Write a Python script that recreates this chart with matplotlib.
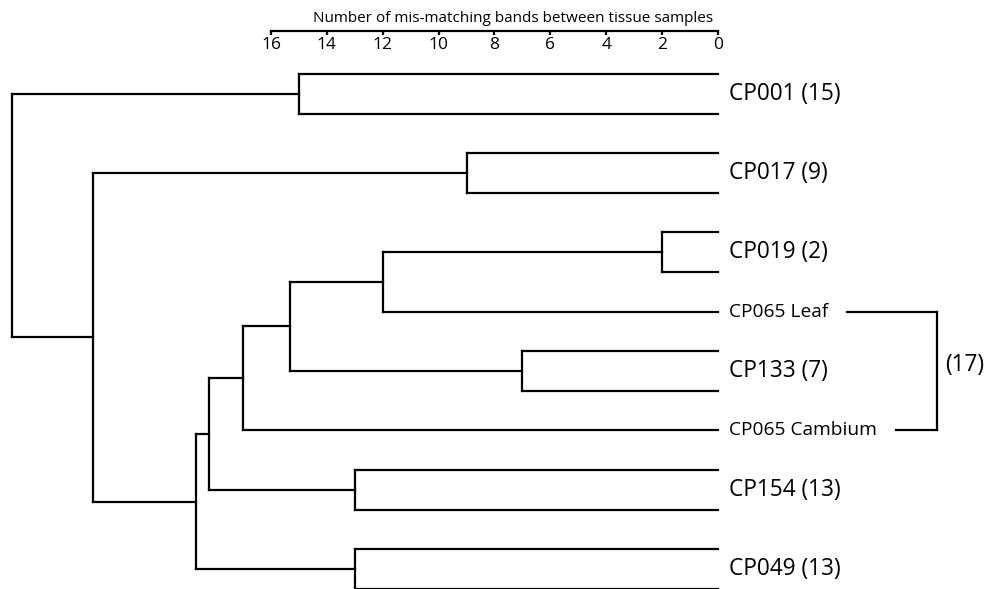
import matplotlib
matplotlib.use("Agg")
import matplotlib.pyplot as plt
from matplotlib.transforms import offset_copy

plt.rcParams['font.family'] = ['Open Sans', 'DejaVu Sans']

# ---- data ----
# leaves, top to bottom (pairs = two tissue samples of one tree)
leaf_names = ["CP001", "CP001", "CP017", "CP017", "CP019", "CP019",
              "CP065 Leaf", "CP133", "CP133", "CP065 Cambium",
              "CP154", "CP154", "CP049", "CP049"]
# merges (child_a, child_b, height); new node ids start at len(leaf_names)
merge_a = [0, 2, 4, 7, 10, 12, 16, 20, 21, 22, 23, 15, 14]
merge_b = [1, 3, 5, 8, 11, 13, 6, 17, 9, 18, 19, 24, 25]
merge_h = [15, 9, 2, 7, 13, 13, 12, 15.33, 17, 18.22, 18.68, 22.37, 25.27]
# samples shown with a single label (pairs) and single-tissue labels
pair_labels = ["CP001", "CP017", "CP019", "CP133", "CP154", "CP049"]
pair_leaves = [(0, 1), (2, 3), (4, 5), (7, 8), (10, 11), (12, 13)]
pair_dist = [15, 9, 2, 7, 13, 13]
single_labels = ["CP065 Leaf", "CP065 Cambium"]
single_leaves = [6, 9]
bracket_dist = 17
axis_ticks = [16, 14, 12, 10, 8, 6, 4, 2, 0]
axis_label = "Number of mis-matching bands between tissue samples"

W, H = 993, 589
fig = plt.figure(figsize=(W / 100, H / 100), dpi=100)
ax = fig.add_axes([0, 0, 1, 1])
px_per_unit = 27.94
x0_px = 718
ax.set_xlim(x0_px / px_per_unit, (x0_px - W) / px_per_unit)
leaf_step = 39.6
top_px = 74
ax.set_ylim((H - top_px) / leaf_step, -top_px / leaf_step)
ax.axis("off")

lw = 1.6
n = len(leaf_names)
ypos = {i: float(i) for i in range(n)}
hpos = {i: 0.0 for i in range(n)}
for k, (a, b, h) in enumerate(zip(merge_a, merge_b, merge_h)):
    node = n + k
    ya, yb = ypos[a], ypos[b]
    ax.plot([h, h], [ya, yb], color="black", lw=lw, solid_capstyle="projecting")
    ax.plot([h, hpos[a]], [ya, ya], color="black", lw=lw, solid_capstyle="projecting")
    ax.plot([h, hpos[b]], [yb, yb], color="black", lw=lw, solid_capstyle="projecting")
    ypos[node] = (ya + yb) / 2
    hpos[node] = h

tr_lbl = offset_copy(ax.transData, fig=fig, x=11, y=0, units="dots")
for name, (a, b), d in zip(pair_labels, pair_leaves, pair_dist):
    ax.text(0, (a + b) / 2, f"{name} ({d})", transform=tr_lbl,
            ha="left", va="center", fontsize=16.3)

bracket_off = 219
fig.canvas.draw()
rend = fig.canvas.get_renderer()
for name, i in zip(single_labels, single_leaves):
    t = ax.text(0, i, name, transform=tr_lbl, ha="left", va="center", fontsize=13.8)
    bb = t.get_window_extent(rend)
    xd0 = ax.transData.inverted().transform((bb.x1 + 19, 0))[0]
    xd1 = ax.transData.inverted().transform((x0_px + bracket_off, 0))[0]
    ax.plot([xd0, xd1], [i, i], color="black", lw=lw)
xb = ax.transData.inverted().transform((x0_px + bracket_off, 0))[0]
ax.plot([xb, xb], single_leaves, color="black", lw=lw)
tr_b = offset_copy(ax.transData, fig=fig, x=8, y=6, units="dots")
ax.text(xb, sum(single_leaves) / 2, f"({bracket_dist})", transform=tr_b,
        ha="left", va="center", fontsize=16.3)

# top scale axis
ax2 = fig.add_axes([0, 1 - 31 / H, 1, 0.5 / H])
ax2.set_xlim(ax.get_xlim())
for s in ["top", "left", "right"]:
    ax2.spines[s].set_visible(False)
ax2.spines["bottom"].set_bounds(0, 16)
ax2.spines["bottom"].set_linewidth(lw)
ax2.set_yticks([])
ax2.set_xticks(axis_ticks)
ax2.set_xticklabels([str(t) for t in axis_ticks])
ax2.tick_params(axis="x", direction="out", length=3, width=lw, labelsize=12.5, pad=1)
ax2.set_xlabel(axis_label, fontsize=11, va="center")
ax2.xaxis.set_label_coords(513 / W, 1 - 19 / H, transform=fig.transFigure)
ax2.patch.set_visible(False)

fig.savefig("out.png", dpi=100)
